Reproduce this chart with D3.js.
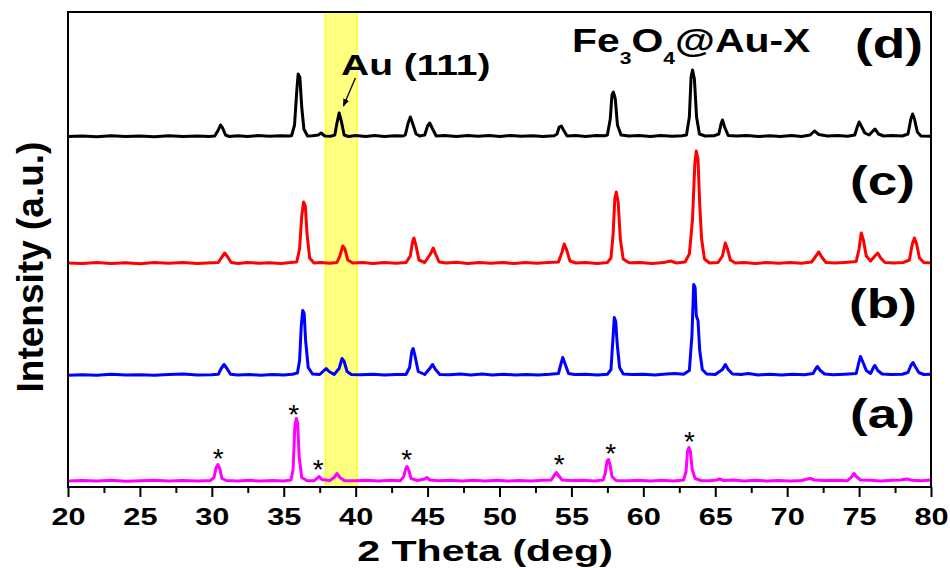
<!DOCTYPE html>
<html>
<head>
<meta charset="utf-8">
<script src="https://cdn.jsdelivr.net/npm/d3@7"></script>
<style>
  html, body { margin: 0; padding: 0; background: #fff; }
  svg { display: block; }
  text { font-family: "Liberation Sans", Arial, Helvetica, sans-serif; }
</style>
</head>
<body>
<svg id="chart" width="950" height="568"></svg>
<script>
// ---------------- DATA ----------------
const xTicks = [20, 25, 30, 35, 40, 45, 50, 55, 60, 65, 70, 75, 80];
const xMinorTicks = [22.5, 27.5, 32.5, 37.5, 42.5, 47.5, 52.5, 57.5, 62.5, 67.5, 72.5, 77.5];
const seriesLabels = ["(a)", "(b)", "(c)", "(d)"];
const seriesOffsets = [5.5, 111.5, 223, 350];
const auBand = [37.9, 40.1];
const auLabel = "Au (111)";
const titleParts = [["Fe", false], ["3", true], ["O", false], ["4", true], ["@Au-X", false]];
const xLabel = "2 Theta (deg)";
const yLabel = "Intensity (a.u.)";
const starPoints = [[30.45, 35], [35.7, 79], [37.4, 24], [43.55, 34], [54.15, 29], [57.73, 40], [63.2, 52]];
const arrowPoints = [[39.98, 409], [39.15, 381]];

// (a) magenta
const traceA = [
[20,0.5],[21,1],[22,0.4],[23,1.2],[24,0.3],[25,0.8],[26,1.3],[27,0.5],[28,1],[29,0.4],[29.9,1],
[30.15,4],[30.3,14],[30.42,17],[30.55,13],[30.7,3],[31,1],[31.8,0.5],[32.6,1.2],[33.4,0.4],[34.2,1.1],[35,0.5],[35.5,1.5],
[35.65,12],[35.77,55],[35.87,63],[35.97,58],[36.07,25],[36.25,4],[36.6,1],[37.1,0.8],[37.3,3],[37.45,5],[37.65,2],[38.2,1],
[38.5,4],[38.7,8],[38.9,4],[39.2,1],[40,0.8],[40.8,1.3],[41.6,0.5],[42.4,1.2],[43.1,0.8],[43.35,5],
[43.48,13],[43.58,15],[43.7,11],[43.85,3],[44.3,1],[44.8,2.5],[44.95,4],[45.15,1.5],[45.8,0.8],[46.6,1.3],[47.4,0.5],[48.2,1.2],[49,0.6],[49.8,1.2],[50.6,0.5],[51.4,1.1],[52.2,0.6],[53,1.2],[53.6,1.5],
[53.8,6],[53.95,9],[54.1,6],[54.35,1.5],[55,1],[55.8,1.2],[56.6,0.5],[57.2,1.5],[57.35,8],
[57.47,20],[57.57,22],[57.68,17],[57.82,5],[58.1,1],[58.9,0.8],[59.7,1.3],[60.5,0.5],[61.3,1.2],[62.1,0.6],[62.8,1.5],[62.97,10],
[63.07,30],[63.17,34],[63.27,30],[63.4,12],[63.6,3],[64,1],[64.6,0.8],[65.1,1.5],[65.3,2.5],[65.6,1],[66.3,1.5],[67,0.6],[67.8,1.2],[68.6,0.5],[69.4,1.1],[70.2,0.6],[71,1],[71.4,2.5],[71.6,3],[71.9,1.5],[72.6,1],[73.4,1.2],[74.2,0.8],[74.5,5],[74.65,8],[74.8,5],[75.1,1.5],[75.8,1.2],[76.5,0.5],[77.3,1.2],[77.9,1.5],[78.3,2.5],[78.7,1.2],[79.3,0.8],[80,1.5]
];
// (b) blue
const traceB = [
[20,0.3],[21,0.8],[22,0.2],[23,1.3],[24,0.4],[25,0.8],[26,0.3],[27,0.9],[28,1.5],[29,0.5],[30,0.8],[30.45,1.2],
[30.65,7],[30.85,11],[31.05,7],[31.3,1.2],[31.8,0.5],[32.6,1],[33.4,0.3],[34.2,1],[35,0.5],[35.6,1.2],[35.95,2.5],
[36.1,15],[36.22,50],[36.32,65],[36.42,62],[36.52,35],[36.7,8],[37.0,1.5],[37.5,1],[37.8,5],[37.95,7],[38.15,4],[38.5,1],
[38.85,7],[39.05,17],[39.2,14],[39.4,4],[39.7,1],[40.4,0.8],[41.2,1.2],[42,0.4],[42.8,1],[43.5,1],
[43.75,8],[43.9,24],[44.0,27],[44.12,20],[44.35,4],[44.8,1],[45.15,7],[45.35,11],[45.55,6],[45.85,1],
[46.5,0.8],[47.3,1.4],[48,0.5],[48.8,1.5],[49.5,0.6],[50.3,1.2],[51.1,0.5],[51.9,1.1],[52.7,0.6],[53.5,1.2],[54.1,2],
[54.28,12],[54.4,18],[54.55,12],[54.8,2],[55.2,1],[56,1.2],[56.8,0.5],[57.5,1.2],[57.75,6],
[57.88,35],[57.98,58],[58.08,54],[58.18,32],[58.35,8],[58.6,1.5],[59.2,1],[60,1.3],[60.8,0.6],[61.6,1.4],[62.2,2],[62.8,1.2],[63.2,5],
[63.38,40],[63.5,91],[63.6,88],[63.68,60],[63.8,55],[63.92,25],[64.1,6],[64.4,1.5],[65,1],
[65.5,6],[65.7,11],[65.9,6],[66.2,1.5],[66.8,1],[67.3,2],[68,0.6],[68.8,1.3],[69.6,0.5],[70.4,1.2],[71.2,0.8],[71.8,2],
[72.0,7],[72.1,9],[72.3,5],[72.6,1.5],[73.2,0.8],[74,1.3],[74.8,2],[75.0,14],[75.1,19],[75.25,14],[75.5,5],[75.8,2],[76.0,8],[76.1,10],[76.3,5],[76.6,1.5],
[77.2,1],[78,1.2],[78.4,3],[78.6,10],[78.75,13],[78.9,9],[79.15,3],[79.5,1],[80,1.2]
];
// (c) red
const traceC = [
[20,1],[21,0.4],[22,1.5],[23,0.6],[24,1.2],[25,0.3],[26,1.4],[27,0.8],[28,1.6],[29,0.5],[30,1.2],[30.45,1.5],
[30.65,6],[30.9,11],[31.1,7],[31.35,1.5],[31.8,0.6],[32.5,1.5],[33.3,0.8],[34,1.3],[34.8,0.5],[35.5,1.4],[35.9,2],
[36.1,15],[36.25,48],[36.38,62],[36.5,58],[36.62,30],[36.8,6],[37.1,1],[37.6,1.6],[38.2,0.8],[38.7,1.5],
[38.9,8],[39.1,18],[39.25,15],[39.45,4],[39.8,1],[40.5,1.4],[41.2,0.6],[42,1.5],[42.8,0.7],[43.5,1.4],
[43.8,8],[43.95,22],[44.05,26],[44.2,18],[44.4,4],[44.8,1.5],[45.2,10],[45.4,16],[45.55,10],[45.8,2],
[46.3,1],[47,1.8],[47.8,0.6],[48.6,1.5],[49.4,0.8],[50.2,1.6],[51,0.5],[51.8,1.4],[52.6,0.7],[53.4,1.5],[54.1,2],
[54.35,12],[54.5,20],[54.65,15],[54.9,3],[55.3,1],[56,1.6],[56.8,0.6],[57.5,1.5],[57.75,6],
[57.9,30],[58.02,66],[58.12,72],[58.25,62],[58.4,25],[58.6,5],[59,1.2],[59.8,1.6],[60.6,0.6],[61.4,1.4],[61.9,3],[62.3,1],
[62.9,2],[63.2,10],[63.42,45],[63.58,100],[63.68,113],[63.8,105],[63.92,60],[64.05,25],[64.25,5],[64.6,1],
[65.2,1.5],[65.5,8],[65.7,21],[65.85,15],[66.05,4],[66.4,1],[67,1.5],[67.8,0.6],[68.6,1.6],[69.4,0.8],[70.2,1.4],[71,0.7],[71.7,2],
[72,8],[72.2,12],[72.4,7],[72.7,1.5],[73.3,1],[74,1.6],[74.8,2.5],[75.0,15],[75.15,31],[75.3,24],[75.5,8],[75.8,3],[76.1,8],[76.3,11],[76.5,6],[76.8,1.5],
[77.4,1],[78.1,1.6],[78.5,4],[78.7,20],[78.85,26],[79.0,20],[79.2,6],[79.5,1.5],[80,1]
];
// (d) black
const traceD = [
[20,0.5],[21,1],[22,0.3],[23,1.2],[24,0.5],[25,1],[26,0.2],[27,1.3],[28,0.6],[29,1],[29.8,0.4],
[30.2,1],[30.45,7],[30.6,12],[30.75,9],[30.95,2],[31.2,0.5],
[31.8,1.2],[32.5,0.4],[33.2,1.5],[34,0.8],[34.8,1.3],[35.4,1],
[35.55,1.5],[35.75,12],[35.9,45],[36.0,63],[36.12,60],[36.25,30],[36.4,8],[36.65,1],
[37.0,1.2],[37.4,2],[37.6,4],[37.85,1],[38.3,0.8],
[38.55,2],[38.7,14],[38.85,24],[39.0,16],[39.2,2],[39.5,0.5],
[40,1.5],[40.7,0.6],[41.3,1.4],[42,0.5],[42.7,1.2],[43.3,1],
[43.45,2],[43.65,14],[43.8,20],[43.95,14],[44.2,3],[44.45,1],
[44.8,2],[45.0,11],[45.15,14],[45.35,8],[45.6,1],
[46.2,1.5],[47,0.5],[47.8,1.6],[48.5,0.8],[49.3,1.4],[50,0.6],[50.8,1.5],[51.5,0.7],[52.3,1.3],[53,0.5],[53.8,1.2],
[54.0,3],[54.15,10],[54.3,11],[54.45,7],[54.7,1],
[55.3,1.4],[56,0.6],[56.7,1.5],[57.3,1.2],
[57.5,2],[57.7,18],[57.82,42],[57.92,45],[58.05,38],[58.2,12],[58.45,2],
[59,1],[59.7,1.5],[60.5,0.5],[61.2,1.5],[62,0.8],[62.7,1.3],
[63.0,2],[63.2,20],[63.32,60],[63.42,67],[63.55,58],[63.7,20],[63.9,3],[64.3,1],
[64.9,1.2],[65.25,3],[65.4,13],[65.5,17],[65.65,10],[65.9,1.5],
[66.5,1],[67.2,1.5],[68,0.4],[68.8,1.3],[69.5,0.6],[70.3,1.4],[71,0.5],[71.6,2],[71.9,6],[72.2,2.5],[72.8,1],
[73.5,1.4],[74.2,0.8],[74.7,2],[74.85,9],[75.0,15],[75.15,11],[75.4,4],[75.7,2],[76.1,8],[76.35,3],[76.7,1],
[77.3,1.5],[78.0,1],[78.4,3],[78.6,18],[78.72,23],[78.85,18],[79.05,5],[79.3,1],[80,0.8]
];
const traces = [traceA, traceB, traceC, traceD];

// ---------------- STYLE / LAYOUT ----------------
const colors = ["#ff00ff", "#0000ff", "#ff0000", "#000000"];
const plot = { left: 68, right: 931, top: 12, bottom: 487 };
const FONT = '"Liberation Sans", Arial, Helvetica, sans-serif';

const svg = d3.select("#chart");
const x = d3.scaleLinear().domain([20, 80]).range([plot.left, plot.right]);
const y = d3.scaleLinear().domain([0, 475]).range([plot.bottom, plot.top]);

function stretchText(parent, px, py, txt, size, sx, anchor, weight) {
  return parent.append("text")
    .attr("transform", `translate(${px},${py}) scale(${sx},1)`)
    .attr("text-anchor", anchor || "start")
    .attr("font-size", size)
    .attr("font-weight", weight || "bold")
    .attr("fill", "#000")
    .text(txt);
}

// Au band
svg.append("rect")
  .attr("x", x(auBand[0])).attr("y", plot.top)
  .attr("width", x(auBand[1]) - x(auBand[0]))
  .attr("height", plot.bottom - plot.top)
  .attr("fill", "#ffff80")
  .attr("stroke", "#ffff00").attr("stroke-width", 1.2);

// traces
const line = d3.line().x(d => x(d[0])).y(d => d[1]).curve(d3.curveLinear);
traces.forEach((tr, i) => {
  svg.append("path")
    .attr("d", line(tr.map(p => [p[0], y(p[1] + seriesOffsets[i])])))
    .attr("fill", "none")
    .attr("stroke", colors[i])
    .attr("stroke-width", 3)
    .attr("stroke-linejoin", "round");
});

// frame
svg.append("rect")
  .attr("x", plot.left).attr("y", plot.top)
  .attr("width", plot.right - plot.left).attr("height", plot.bottom - plot.top)
  .attr("fill", "none").attr("stroke", "#000").attr("stroke-width", 2);

// bottom axis
const gx = svg.append("g").attr("transform", `translate(0,${plot.bottom})`)
  .call(d3.axisBottom(x).tickValues(xTicks).tickSize(10).tickSizeOuter(0).tickFormat(d3.format("d")));
gx.select(".domain").remove();
gx.selectAll(".tick line").attr("stroke", "#000").attr("stroke-width", 2);
gx.selectAll(".tick text")
  .attr("y", 0).attr("dy", 0)
  .attr("transform", "translate(0,38) scale(1.28,1)")
  .attr("font-family", FONT).attr("font-size", 24).attr("font-weight", "bold").attr("fill", "#000");
const gxm = svg.append("g").attr("transform", `translate(0,${plot.bottom})`)
  .call(d3.axisBottom(x).tickValues(xMinorTicks).tickSize(6).tickSizeOuter(0).tickFormat(""));
gxm.select(".domain").remove();
gxm.selectAll(".tick line").attr("stroke", "#000").attr("stroke-width", 2);

// stars
starPoints.forEach(s => {
  svg.append("text")
    .attr("x", x(s[0])).attr("y", y(s[1]) + 16)
    .attr("text-anchor", "middle")
    .attr("font-size", 28).attr("fill", "#000")
    .text("*");
});

// series labels
const labelPos = [[915, 428], [917, 318], [915, 195], [923, 58]];
seriesLabels.forEach((lab, i) => {
  stretchText(svg, labelPos[i][0], labelPos[i][1], lab, 40, 1.33, "end");
});

// title
const title = svg.append("text")
  .attr("transform", "translate(572,52) scale(1.24,1)")
  .attr("font-size", 33).attr("font-weight", "bold").attr("fill", "#000");
titleParts.forEach(p => {
  const t = title.append("tspan").text(p[0]);
  if (p[1]) t.attr("font-size", 17).attr("dy", 12);
  else t.attr("dy", title.selectAll("tspan").size() > 1 ? -12 : 0);
});

// Au (111) label + arrow
stretchText(svg, 341, 75, auLabel, 30, 1.3, "start");
svg.append("defs").append("marker")
  .attr("id", "ah").attr("viewBox", "0 0 10 10").attr("refX", 9).attr("refY", 5)
  .attr("markerWidth", 6).attr("markerHeight", 6).attr("orient", "auto")
  .append("path").attr("d", "M0,1 L10,5 L0,9 z").attr("fill", "#000");
svg.append("line")
  .attr("x1", x(arrowPoints[0][0])).attr("y1", y(arrowPoints[0][1]))
  .attr("x2", x(arrowPoints[1][0])).attr("y2", y(arrowPoints[1][1]))
  .attr("stroke", "#000").attr("stroke-width", 1.3)
  .attr("marker-end", "url(#ah)");

// axis titles
stretchText(svg, 485, 561, xLabel, 30, 1.37, "middle");
svg.append("text")
  .attr("transform", "translate(43,267) rotate(-90)")
  .attr("text-anchor", "middle")
  .attr("font-size", 37).attr("font-weight", "bold").attr("fill", "#000")
  .text(yLabel);
</script>
</body>
</html>
